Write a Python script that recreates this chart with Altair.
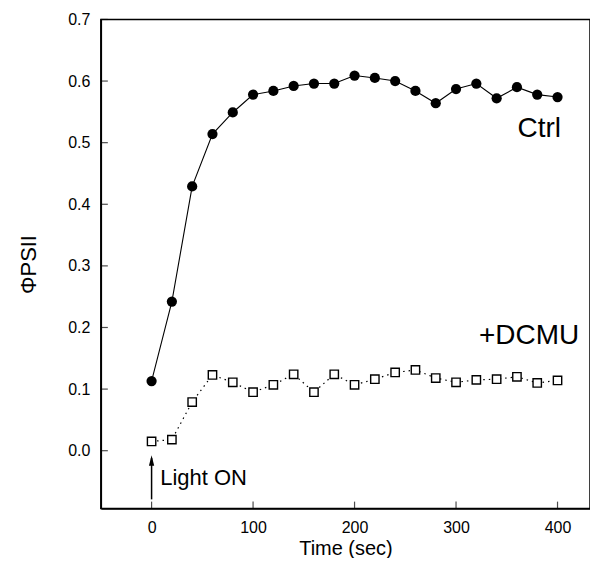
import altair as alt
import pandas as pd

# ---- data ----
time_s = [0, 20, 40, 60, 80, 100, 120, 140, 160, 180, 200, 220, 240, 260, 280, 300, 320, 340, 360, 380, 400]
ctrl = [0.113, 0.242, 0.429, 0.514, 0.549, 0.578, 0.584, 0.592, 0.596, 0.596, 0.609,
        0.605, 0.600, 0.584, 0.564, 0.587, 0.596, 0.572, 0.590, 0.578, 0.574]
dcmu = [0.015, 0.018, 0.079, 0.123, 0.111, 0.095, 0.107, 0.124, 0.095, 0.124, 0.107,
        0.116, 0.127, 0.131, 0.118, 0.111, 0.115, 0.116, 0.120, 0.110, 0.114]
x_ticks = [0, 100, 200, 300, 400]
y_ticks = [0.0, 0.1, 0.2, 0.3, 0.4, 0.5, 0.6, 0.7]

series_labels = ["Ctrl", "+DCMU"]
series_label_x = [382, 372]
series_label_y = [0.509, 0.173]
light_label = ["Light ON"]
light_label_x = [8.5]
light_label_y = [-0.055]
arrow_x = [0]
arrow_y_start = [-0.079]
arrow_y_end = [-0.012]
arrow_head_y = [-0.016]

df = pd.DataFrame({"t": time_s, "ctrl": ctrl, "dcmu": dcmu})
df_series_lab = pd.DataFrame({"x": series_label_x, "y": series_label_y, "text": series_labels})
df_light = pd.DataFrame({"x": light_label_x, "y": light_label_y, "text": light_label})
df_arrow = pd.DataFrame({"x": arrow_x, "y": arrow_y_start, "y2": arrow_y_end, "yh": arrow_head_y})
df_xt = pd.DataFrame({"v": x_ticks})
df_yt = pd.DataFrame({"v": y_ticks})

FONT = "Liberation Sans"
xs = alt.Scale(domain=[-50, 432], nice=False, zero=False)
ys = alt.Scale(domain=[-0.094, 0.7], nice=False, zero=False)

xax = alt.Axis(values=x_ticks, title="Time (sec)", format="d", ticks=False,
               labelPadding=11, titleY=46, titleBaseline="alphabetic", labelFontSize=16,
               titleFontSize=20, labelFont=FONT, titleFont=FONT, titleFontWeight="normal")
yax = alt.Axis(values=y_ticks, title="ΦPSII", format=".1f", ticks=False,
               labelPadding=11, titlePadding=27, labelFontSize=16, titleFontSize=22,
               labelFont=FONT, titleFont=FONT, titleFontWeight="normal")

X = alt.X("t:Q", scale=xs, axis=xax)

ctrl_line = alt.Chart(df).mark_line(color="black", strokeWidth=1.1).encode(
    x=X, y=alt.Y("ctrl:Q", scale=ys, axis=yax))
ctrl_pts = alt.Chart(df).mark_point(shape="circle", filled=True, color="black", size=105, opacity=1).encode(
    x=X, y=alt.Y("ctrl:Q", scale=ys, axis=yax))
dcmu_line = alt.Chart(df).mark_line(color="black", strokeWidth=1.2, strokeDash=[1.5, 4]).encode(
    x=X, y=alt.Y("dcmu:Q", scale=ys, axis=yax))
dcmu_pts = alt.Chart(df).mark_point(shape="square", fill="white", fillOpacity=1, stroke="black",
                                    strokeWidth=1.4, size=70, opacity=1).encode(
    x=X, y=alt.Y("dcmu:Q", scale=ys, axis=yax))

series_text = alt.Chart(df_series_lab).mark_text(font=FONT, fontSize=28, color="black",
                                                 align="center", baseline="alphabetic").encode(
    x=alt.X("x:Q", scale=xs, axis=xax), y=alt.Y("y:Q", scale=ys, axis=yax), text="text:N")
light_text = alt.Chart(df_light).mark_text(font=FONT, fontSize=22, color="black",
                                           align="left", baseline="alphabetic").encode(
    x=alt.X("x:Q", scale=xs, axis=xax), y=alt.Y("y:Q", scale=ys, axis=yax), text="text:N")
arrow_rule = alt.Chart(df_arrow).mark_rule(color="black", strokeWidth=1.5).encode(
    x=alt.X("x:Q", scale=xs, axis=xax), y=alt.Y("y:Q", scale=ys, axis=yax), y2="y2:Q")
arrow_head = alt.Chart(df_arrow).mark_point(shape="M0,-1L0.5,1L-0.5,1Z", filled=True, color="black",
                                            size=110, opacity=1).encode(
    x=alt.X("x:Q", scale=xs, axis=xax), y=alt.Y("yh:Q", scale=ys, axis=yax))

# inward tick marks on the bottom and left axes
x_tick_marks = alt.Chart(df_xt).mark_tick(orient="vertical", color="black", size=7, thickness=1.2,
                                          yOffset=-3.5).encode(
    x=alt.X("v:Q", scale=xs, axis=xax), y=alt.value(490))
y_tick_marks = alt.Chart(df_yt).mark_tick(orient="horizontal", color="black", size=7, thickness=1.2,
                                          xOffset=3.5).encode(
    y=alt.Y("v:Q", scale=ys, axis=yax), x=alt.value(0))

chart = alt.layer(dcmu_line, dcmu_pts, ctrl_line, ctrl_pts, series_text, light_text,
                  arrow_rule, arrow_head, x_tick_marks, y_tick_marks).properties(
    width=490, height=490,
    autosize=alt.AutoSizeParams(type="none"),
    padding={"left": 93, "top": 11, "right": 0, "bottom": 49},
    background="white",
).configure_view(stroke="black", strokeWidth=1.5).configure_axis(
    grid=False, domainColor="black", domainWidth=1.5,
    labelColor="black", titleColor="black")

chart.save("out.html", embed_options={"renderer": "svg", "actions": False})
